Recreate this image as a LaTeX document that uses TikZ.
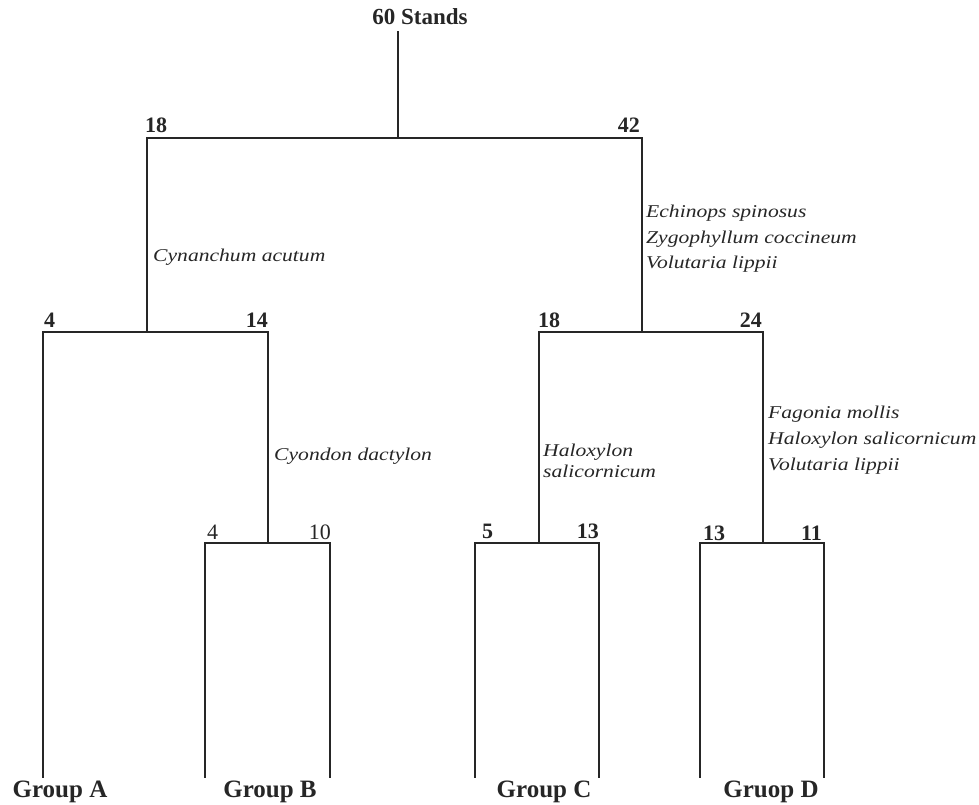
\documentclass[tikz,border=0pt]{standalone}
\usepackage{fontspec}
\usepackage{graphicx}
\setmainfont{Liberation Serif}
\definecolor{ink}{gray}{0.15}
\tikzset{
  branch/.style={draw=ink, line width=1.4pt, line cap=rect},
  stands/.style={inner sep=0pt, text=ink, font=\fontsize{23}{26}\selectfont\bfseries},
  count/.style={inner sep=0pt, text=ink, font=\fontsize{22}{24}\selectfont\bfseries},
  countlight/.style={inner sep=0pt, text=ink, font=\fontsize{22}{24}\selectfont},
  species/.style={inner sep=0pt, text=ink, font=\fontsize{18}{20}\selectfont\itshape},
  grouplbl/.style={inner sep=0pt, text=ink, font=\fontsize{25}{28}\selectfont\bfseries}
}
\newcommand{\wide}[1]{\scalebox{1.2}[1]{#1}}
\begin{document}
\begin{tikzpicture}[x=1pt,y=-1pt]
\useasboundingbox (0,0) rectangle (979,805);
% root label
\node[stands, anchor=base] (root) at (420,25) {60 Stands};
% junction coordinates
\coordinate (r0) at (398,32);
\coordinate (r1) at (398,138);
\coordinate (L1) at (147,138);
\coordinate (R1) at (642,138);
\coordinate (L2) at (147,332);
\coordinate (LA) at (43,332);
\coordinate (LB) at (268,332);
\coordinate (LAe) at (43,777);
\coordinate (LB2) at (268,543);
\coordinate (B1) at (205,543);
\coordinate (B2) at (330,543);
\coordinate (B1e) at (205,777);
\coordinate (B2e) at (330,777);
\coordinate (R2) at (642,332);
\coordinate (RC) at (539,332);
\coordinate (RD) at (763,332);
\coordinate (RC2) at (539,543);
\coordinate (C1) at (475,543);
\coordinate (C2) at (599,543);
\coordinate (C1e) at (475,777);
\coordinate (C2e) at (599,777);
\coordinate (RD2) at (763,543);
\coordinate (D1) at (700,543);
\coordinate (D2) at (824,543);
\coordinate (D1e) at (700,777);
\coordinate (D2e) at (824,777);
% branches
\draw[branch] (r0) -- (r1);
\draw[branch] (L1) -- (R1);
\draw[branch] (L1) -- (L2);
\draw[branch] (LA) -- (LB);
\draw[branch] (LA) -- (LAe);
\draw[branch] (LB) -- (LB2);
\draw[branch] (B1) -- (B2);
\draw[branch] (B1) -- (B1e);
\draw[branch] (B2) -- (B2e);
\draw[branch] (R1) -- (R2);
\draw[branch] (RC) -- (RD);
\draw[branch] (RC) -- (RC2);
\draw[branch] (C1) -- (C2);
\draw[branch] (C1) -- (C1e);
\draw[branch] (C2) -- (C2e);
\draw[branch] (RD) -- (RD2);
\draw[branch] (D1) -- (D2);
\draw[branch] (D1) -- (D1e);
\draw[branch] (D2) -- (D2e);
% counts
\node[count, anchor=base west] (n18a) at (145,133) {18};
\node[count, anchor=base east] (n42) at (640,133) {42};
\node[count, anchor=base west] (n4a) at (44,327) {4};
\node[count, anchor=base east] (n14) at (268,327) {14};
\node[count, anchor=base west] (n18b) at (538,327) {18};
\node[count, anchor=base east] (n24) at (762,327) {24};
\node[countlight, anchor=base west] (n4b) at (207,539) {4};
\node[countlight, anchor=base east] (n10) at (331,539) {10};
\node[count, anchor=base west] (n5) at (482,538) {5};
\node[count, anchor=base east] (n13c) at (599,538) {13};
\node[count, anchor=base west] (n13d) at (703,540) {13};
\node[count, anchor=base east] (n11) at (822,540) {11};
% species
\node[species, anchor=base west] (s1) at (153,261) {\wide{Cynanchum acutum}};
\node[species, anchor=base west] (s2) at (274,460) {\wide{Cyondon dactylon}};
\node[species, anchor=base west] (s3) at (646,218) {\wide{Echinops spinosus}};
\node[species, anchor=base west] (s4) at (646,243) {\wide{Zygophyllum coccineum}};
\node[species, anchor=base west] (s5) at (646,268) {\wide{Volutaria lippii}};
\node[species, anchor=base west] (s6) at (543,456) {\wide{Haloxylon}};
\node[species, anchor=base west] (s7) at (543,477) {\wide{salicornicum}};
\node[species, anchor=base west] (s8) at (768,418) {\wide{Fagonia mollis}};
\node[species, anchor=base west] (s9) at (768,444) {\wide{Haloxylon salicornicum}};
\node[species, anchor=base west] (s10) at (768,470) {\wide{Volutaria lippii}};
% groups
\node[grouplbl, anchor=base] (gA) at (60,797) {Group A};
\node[grouplbl, anchor=base] (gB) at (270,797) {Group B};
\node[grouplbl, anchor=base] (gC) at (544,797) {Group C};
\node[grouplbl, anchor=base] (gD) at (771,797) {Gruop D};
\end{tikzpicture}
\end{document}
